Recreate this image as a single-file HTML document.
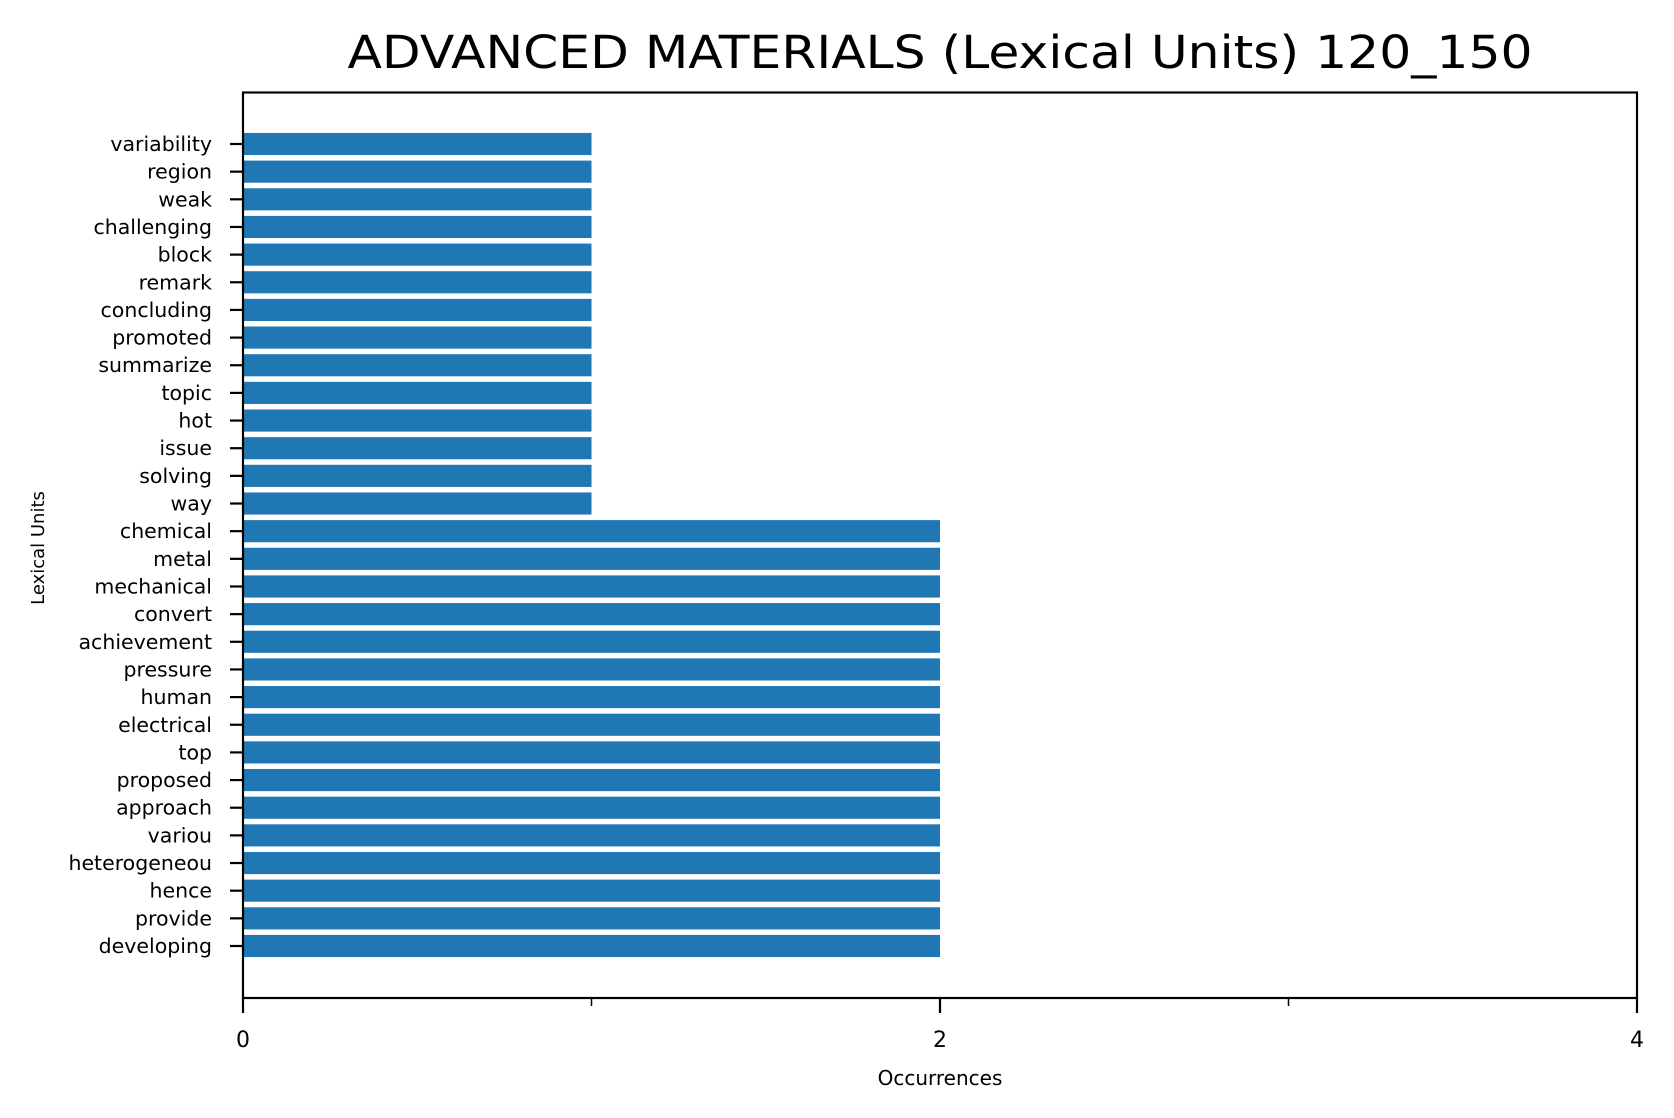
<!DOCTYPE html>
<html><head><meta charset="utf-8"><style>
html,body{margin:0;padding:0;background:#fff;}
svg{display:block;font-family:"DejaVu Sans","Liberation Sans",sans-serif;}
</style></head><body>
<svg id="chart" width="1674" height="1118" viewBox="0 0 1674 1118">
<text x="940" y="68" font-size="45" text-anchor="middle" textLength="1185" lengthAdjust="spacingAndGlyphs">ADVANCED MATERIALS (Lexical Units) 120_150</text>
<g id="bars"></g>
<g id="yticks"></g>
<g id="xticks"></g>
<rect x="243" y="92.5" width="1394" height="905.5" fill="none" stroke="#000" stroke-width="2.2"/>
<text x="940" y="1085" font-size="20" text-anchor="middle">Occurrences</text>
<text transform="translate(44,548) rotate(-90)" font-size="18" text-anchor="middle">Lexical Units</text>
</svg>
<script>
const categories = ["developing","provide","hence","heterogeneou","variou","approach","proposed","top","electrical","human","pressure","achievement","convert","mechanical","metal","chemical","way","solving","issue","hot","topic","summarize","promoted","concluding","remark","block","challenging","weak","region","variability"];
const values = [2,2,2,2,2,2,2,2,2,2,2,2,2,2,2,2,1,1,1,1,1,1,1,1,1,1,1,1,1,1];
const xTicks = [0,1,2,3,4];
const xTickLabels = ["0","","2","","4"];
const NS="http://www.w3.org/2000/svg";
const x0=243, x1=1637, xMin=0, xMax=4;
const xs = v => x0 + (v-xMin)/(xMax-xMin)*(x1-x0);
const yBottom=946, step=(946-144)/29;
const ys = i => yBottom - i*step;
const bh = step*0.8;
function mk(t,a){const e=document.createElementNS(NS,t);for(const k in a)e.setAttribute(k,a[k]);return e;}
const gb=document.getElementById('bars'), gy=document.getElementById('yticks'), gx=document.getElementById('xticks');
categories.forEach((c,i)=>{
  const r=mk('rect',{x:xs(0),y:ys(i)-bh/2,width:xs(values[i])-xs(0),height:bh,fill:'#1f77b4'});
  
  
  gb.appendChild(r);
  const l=mk('line',{x1:x0-13,x2:x0,y1:ys(i),y2:ys(i),stroke:'#000','stroke-width':2.2});
  
  
  gy.appendChild(l);
  const t=mk('text',{x:212,y:ys(i)+7,'font-size':'20.5','text-anchor':'end'});
  t.textContent=c;
  
  
  gy.appendChild(t);
});
xTicks.forEach((v,i)=>{
  const major = xTickLabels[i]!=="";
  const l=mk('line',{x1:xs(v),x2:xs(v),y1:998,y2:998+(major?15:8),stroke:'#000','stroke-width':major?2.2:1.5});
  
  
  gx.appendChild(l);
  if(major){
    const t=mk('text',{x:xs(v),y:1047,'font-size':'22','text-anchor':'middle'});
    t.textContent=xTickLabels[i];
    
    
    gx.appendChild(t);
  }
});
</script>
</body></html>
